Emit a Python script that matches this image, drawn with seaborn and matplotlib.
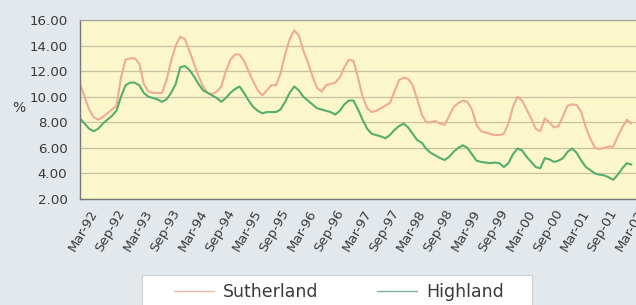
import numpy as np
import pandas as pd
import matplotlib
matplotlib.use("Agg")
import matplotlib.pyplot as plt
from matplotlib.lines import Line2D
from matplotlib.patches import Rectangle
import seaborn as sns

# Monthly series, Jan-92 .. Feb-02
months = pd.date_range("1992-01-01", periods=122, freq="MS")

sutherland = [
    11.0, 10.0, 9.0, 8.4, 8.2, 8.4, 8.7, 9.0, 9.3, 11.5, 12.9, 13.0,
    13.0, 12.6, 11.0, 10.4, 10.3, 10.3, 10.3, 11.3, 12.8, 14.0, 14.7, 14.5,
    13.6, 12.6, 11.6, 10.8, 10.3, 10.2, 10.4, 10.8, 12.0, 12.9, 13.3, 13.3,
    12.8, 12.0, 11.2, 10.5, 10.1, 10.5, 10.9, 10.9, 11.8, 13.3, 14.5, 15.2,
    14.8, 13.6, 12.7, 11.6, 10.7, 10.4, 10.9, 11.0, 11.1, 11.5, 12.3, 12.9,
    12.8, 11.5, 10.0, 9.1, 8.8, 8.9, 9.1, 9.3, 9.5, 10.4, 11.3, 11.5,
    11.4, 10.9, 9.8, 8.6, 8.0, 8.0, 8.1, 7.9, 7.8, 8.5, 9.2, 9.5,
    9.7, 9.6, 9.0, 7.8, 7.3, 7.2, 7.1, 7.0, 7.0, 7.1, 7.9, 9.2,
    10.0, 9.7, 9.0, 8.3, 7.5, 7.3, 8.3, 8.0, 7.6, 7.7, 8.5, 9.3,
    9.4, 9.35, 8.8, 7.6, 6.7, 6.0, 5.9, 6.0, 6.1, 6.1, 6.9, 7.6,
    8.2, 7.9,
]
highland = [
    8.3, 7.9, 7.5, 7.3, 7.5, 7.9, 8.2, 8.5, 8.9, 10.0, 10.9, 11.1,
    11.1, 10.9, 10.3, 10.0, 9.9, 9.8, 9.6, 9.8, 10.3, 11.0, 12.3, 12.4,
    12.1, 11.6, 11.0, 10.5, 10.3, 10.1, 9.9, 9.6, 9.9, 10.3, 10.6, 10.8,
    10.3, 9.7, 9.2, 8.9, 8.7, 8.8, 8.8, 8.8, 9.0, 9.6, 10.3, 10.8,
    10.5, 10.0, 9.7, 9.4, 9.1, 9.0, 8.9, 8.8, 8.6, 8.9, 9.4, 9.7,
    9.7, 9.0, 8.2, 7.5, 7.1, 7.0, 6.9, 6.75, 7.0, 7.4, 7.7, 7.9,
    7.6, 7.1, 6.6, 6.4, 5.9, 5.6, 5.4, 5.2, 5.05, 5.3, 5.7, 6.0,
    6.2, 6.0, 5.5, 5.0, 4.9, 4.85, 4.8, 4.85, 4.8, 4.5, 4.8, 5.5,
    5.95, 5.8, 5.3, 4.9, 4.5, 4.4, 5.2, 5.1, 4.9, 5.0, 5.2, 5.7,
    5.95, 5.6, 5.0, 4.5, 4.25, 4.0, 3.9, 3.85, 3.7, 3.5, 3.9, 4.4,
    4.8, 4.7,
]

tick_labels = ["Mar-92", "Sep-92", "Mar-93", "Sep-93", "Mar-94", "Sep-94",
               "Mar-95", "Sep-95", "Mar-96", "Sep-96", "Mar-97", "Sep-97",
               "Mar-98", "Sep-98", "Mar-99", "Sep-99", "Mar-00", "Sep-00",
               "Mar-01", "Sep-01", "Mar-02"]
y_ticks = [2, 4, 6, 8, 10, 12, 14, 16]
series_names = ["Sutherland", "Highland"]

n = len(months)
df = pd.DataFrame({
    "pos": np.concatenate([np.arange(n), np.arange(n)]),
    "value": np.concatenate([sutherland, highland]),
    "series": [series_names[0]] * n + [series_names[1]] * n,
})

sns.set_style("white")
plt.rcParams["font.family"] = ["DejaVu Sans"]

fig_bg = "#e3e8ec"
fig = plt.figure(figsize=(6.36, 3.05), dpi=100, facecolor=fig_bg)
ax = fig.add_axes([80 / 636, 106 / 305, 556 / 636, 179 / 305])
ax.set_facecolor("#fcf6cb")

palette = {"Sutherland": "#f0aa98", "Highland": "#55ae6c"}
sns.lineplot(data=df, x="pos", y="value", hue="series", palette=palette,
             linewidth=1.5, ax=ax, legend=False)

ax.set_xlim(0, 122)
ax.set_ylim(2, 16)
tick_pos = [2 + 6 * i for i in range(len(tick_labels))]
ax.set_xticks(tick_pos)
ax.set_xticklabels(tick_labels, rotation=60, ha="right",
                   rotation_mode="anchor", fontsize=9.5, color="#3a3a3a")
ax.set_yticks(y_ticks)
ax.set_yticklabels([f"{v:.2f}" for v in y_ticks], fontsize=9.6,
                   color="#3a3a3a")
ax.tick_params(axis="y", length=3, width=0.8, color="#777777", pad=6)
ax.tick_params(axis="x", length=3, width=0.8, color="#777777", pad=3)

ax.grid(axis="y", color="#c9c0a0", linewidth=0.9)
ax.set_axisbelow(True)
for side in ["left", "bottom"]:
    ax.spines[side].set_color("#777777")
    ax.spines[side].set_linewidth(1.0)
ax.spines["top"].set_color("#a0a0a0")
ax.spines["top"].set_linewidth(0.8)
ax.spines["right"].set_visible(False)

ax.set_xlabel("")
ax.set_ylabel("")
fig.text(19 / 636, 1 - 108 / 305, "%", fontsize=10, color="#3a3a3a",
         ha="center", va="center")

# legend box (frame) and entries
fig.patches.append(Rectangle((142 / 636, -0.05), (532 - 142) / 636,
                             0.05 + (305 - 275) / 305,
                             transform=fig.transFigure, facecolor="white",
                             edgecolor="#cfcfcf", linewidth=0.8, zorder=0))
leg_colors = {"Sutherland": "#f3b5a8", "Highland": "#7fb0a4"}
handles = [Line2D([0], [0], color=leg_colors[s], linewidth=1.0)
           for s in series_names]
leg = fig.legend(handles, series_names, loc="center left",
                 bbox_to_anchor=(174 / 636, 1 - 292 / 305), ncol=2,
                 fontsize=12.5, frameon=False, borderpad=0, borderaxespad=0,
                 handlelength=2.3, handletextpad=0.5, columnspacing=3.4)
for t in leg.get_texts():
    t.set_color("#3a3a3a")

fig.savefig("out.png", dpi=100, facecolor=fig_bg)
